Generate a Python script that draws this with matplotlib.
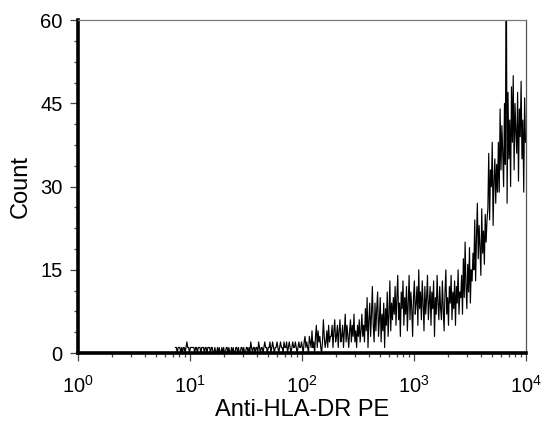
import matplotlib
matplotlib.use("Agg")
import matplotlib.pyplot as plt
from matplotlib.ticker import FixedLocator, LogLocator, NullFormatter
import numpy as np

plt.rcParams['font.family'] = ['Liberation Sans', 'DejaVu Sans']
plt.rcParams['mathtext.default'] = 'regular'

# Histogram: 512 log-spaced channels over 4 decades (128 channels/decade).
# Channels below first_channel are empty.
first_channel = 111
channels_per_decade = 128
counts = [
    # 111-254: sparse single events
    1, 1, 0, 1, 1, 1, 0, 1, 0, 1,
    1, 0, 1, 2, 1, 1, 0, 1, 1, 1,
    1, 1, 0, 1, 1, 0, 1, 1, 1, 0,
    1, 1, 1, 0, 1, 1, 0, 1, 1, 1,
    0, 1, 1, 0, 0, 1, 0, 0, 1, 0,
    1, 0, 0, 1, 0, 1, 0, 0, 1, 1,
    0, 1, 0, 0, 1, 0, 1, 0, 0, 1,
    1, 0, 1, 0, 0, 1, 1, 0, 1, 0,
    0, 1, 1, 0, 1, 0, 2, 1, 0, 1,
    1, 0, 1, 1, 0, 2, 1, 0, 1, 1,
    0, 1, 2, 1, 1, 0, 1, 1, 2, 0,
    1, 2, 1, 0, 1, 1, 2, 1, 0, 1,
    2, 1, 1, 0, 2, 1, 1, 2, 0, 1,
    2, 1, 0, 1, 2, 1, 1, 2, 1, 0,
    1, 2, 1, 1,
    # 255-288
    2, 1, 0, 2, 3, 1, 2, 1, 0, 3,
    2, 1, 4, 1, 2, 0, 3, 5, 1, 4,
    2, 3, 1, 0, 2, 6, 3, 1, 2, 4,
    1, 5, 2, 3,
    # 289-326
    3, 5, 1, 4, 6, 2, 3, 5, 1, 4,
    6, 2, 3, 5, 1, 4, 7, 2, 5, 3,
    1, 4, 6, 2, 5, 3, 7, 2, 4, 1,
    5, 3, 6, 2, 4, 7, 3, 5,
    # 327-360
    2, 8, 4, 10, 1, 6, 9, 3, 7, 12,
    5, 2, 9, 4, 8, 11, 3, 6, 10, 2,
    7, 4, 9, 1, 8, 5, 11, 3, 7, 13,
    4, 9, 6, 10,
    # 361-414
    7, 12, 5, 10, 14, 6, 9, 3, 11, 8,
    13, 5, 10, 7, 12, 4, 9, 14, 6, 11,
    8, 3, 10, 13, 7, 9, 12, 5, 15, 8,
    11, 6, 13, 9, 4, 12, 7, 10, 14, 6,
    9, 12, 5, 11, 8, 13, 3, 10, 7, 14,
    9, 6, 12, 8,
    # 415-437
    6, 13, 8, 4, 11, 15, 7, 10, 5, 12,
    9, 14, 6, 11, 8, 13, 5, 12, 9, 15,
    7, 11, 10,
    # 438-451
    14, 7, 17, 10, 20, 12, 8, 16, 11, 19, 9, 15, 13, 18,
    # 452-467
    15, 24, 13, 21, 27, 17, 23, 19, 14, 26, 18, 22, 16, 25, 20, 24,
    # 468-479
    26, 36, 24, 33, 30, 38, 23, 31, 35, 27, 34, 29,
    # 480-488
    38, 29, 44, 33, 41, 36, 30, 45, 34,
    # 489 (off-scale)
    75,
    # 490-511
    27, 47, 35, 42, 30, 48, 38, 50, 33, 45, 40,
    36, 47, 31, 44, 39, 49, 35, 42, 29, 46, 38,
]

x_label = "Anti-HLA-DR PE"
y_label = "Count"
y_ticks = [0, 15, 30, 45, 60]

ch = np.arange(first_channel, first_channel + len(counts))
xvals = 10 ** ((ch + 0.5) / channels_per_decade)

fig = plt.figure(figsize=(5.45, 4.30), dpi=100)
ax = fig.add_axes([0.143, 0.179, 0.822, 0.774])
ax.plot(xvals, counts, color='black', lw=0.85)

ax.set_xscale('log')
ax.set_xlim(1, 1e4)
ax.set_ylim(0, 60)

ax.yaxis.set_major_locator(FixedLocator(y_ticks))
ax.yaxis.set_minor_locator(FixedLocator(np.arange(0, 60.01, 3.75)))
ax.xaxis.set_major_locator(LogLocator(base=10, numticks=10))
ax.xaxis.set_minor_locator(LogLocator(base=10, subs=np.arange(2, 10), numticks=20))
ax.xaxis.set_minor_formatter(NullFormatter())

for s in ['left', 'bottom']:
    ax.spines[s].set_linewidth(2.6)
    ax.spines[s].set_color('black')
ax.spines['top'].set_linewidth(0.9)
ax.spines['top'].set_color('#7a7a7a')
ax.spines['right'].set_linewidth(0.9)
ax.spines['right'].set_color('#555555')

ax.tick_params(axis='both', which='major', direction='out', length=6, width=0.9,
               color='#444444', labelsize=14.5)
ax.tick_params(axis='both', which='minor', direction='out', length=3.2, width=0.9,
               color='#444444')
ax.tick_params(axis='y', which='major', pad=5)
ax.tick_params(axis='x', which='major', pad=10)

ax.set_xlabel(x_label, fontsize=17, labelpad=1)
ax.set_ylabel(y_label, fontsize=17, labelpad=6)

fig.savefig('out.png', dpi=100)
